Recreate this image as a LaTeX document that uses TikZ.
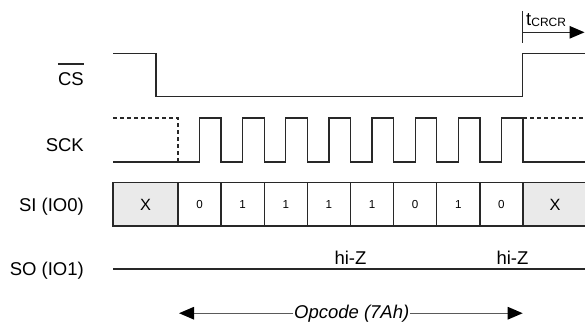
\documentclass[tikz,border=0pt]{standalone}
\usepackage{fontspec}
\setmainfont{Liberation Sans}
\usetikzlibrary{arrows.meta}
\definecolor{xgray}{RGB}{234,234,234}
\definecolor{wavegray}{RGB}{40,40,40}
\definecolor{spangray}{RGB}{90,90,90}

\begin{document}
\begin{tikzpicture}[
    x=1pt,
    y=-1pt,
    line cap=butt,
    every node/.style={font=\fontsize{18.5}{20}\selectfont, inner sep=0pt},
    wave/.style={draw=wavegray, line width=1.3pt},
    bit/.style={font=\fontsize{11.6}{13}\selectfont},
    bigx/.style={font=\fontsize{16.3}{18}\selectfont},
    span/.style={draw=spangray, line width=1.3pt},
    headarrow/.style={arrows={-Triangle[length=15pt,width=12.5pt,black]}}
]
\useasboundingbox (0,0) rectangle (585,326);

% Signal names
\node[anchor=base east] (cs) at (84,86) {CS};
\draw[wave] ([yshift=9pt]cs.north west) -- ([yshift=9pt]cs.north east);
\node[anchor=base east] (sck) at (84,151) {SCK};
\node[anchor=base east] (si) at (84,211) {SI (IO0)};
\node[anchor=base east] (so) at (84,275.5) {SO (IO1)};

% Chip select
\draw[wave] (113,53.3) -- (156,53.3) -- (156,96.7)
      -- (522.7,96.7) -- (522.7,53.3) -- (585,53.3);

% t_CRCR
\coordinate (tc0) at (522.7,32.3);
\coordinate (tc1) at (584.5,32.3);
\draw[wave] (522.7,11) -- (522.7,43);
\draw[wave,headarrow] (tc0) -- (tc1);
\node[anchor=base west] (tcrcr) at (526,25.5)
      {t\raisebox{-1pt}{\fontsize{12}{13}\selectfont CRCR}};

% Serial clock
\draw[wave,dash pattern=on 4pt off 3pt] (113,118) -- (178,118) -- (178,162);
\draw[wave,dash pattern=on 4pt off 3pt] (523,118) -- (585,118);
\draw[wave] (113,162)
      \foreach \i in {0,...,7}{
        -- ({199.56+\i*43.125},162) |- ++(21.56,-44) -- ++(0,44)
      } -- (585,162);

% SI cells: backgrounds
\fill[xgray] (113,182.7) rectangle (178,226);
\fill[xgray] (523,182.7) rectangle (585,226);

% SI cells: borders
\draw[wave] (585,182.7) -| (113,226) -- (585,226);
\foreach \i in {0,...,8}
    \draw[wave] ({178+\i*43.125},182.7) -- ++(0,43.3);

% Opcode bits
\foreach \b [count=\i from 0] in {0,1,1,1,1,0,1,0}
    \node[bit] (bit\i) at ({199.56+\i*43.125},204.5) {\b};
\node[bigx] (xa) at (145.5,204.5) {X};
\node[bigx] (xb) at (555,204.5) {X};

% Serial output
\draw[wave] (113,269) -- (585,269);
\node (hiz1) at (350.5,258) {hi-Z};
\node (hiz2) at (512.5,258) {hi-Z};

% Opcode span
\node[anchor=base, font=\itshape\fontsize{18.5}{20}\selectfont, inner xsep=0.5pt]
      (op) at (351.7,318) {Opcode (7Ah)};
\coordinate (opl) at (179,312.7);
\coordinate (opr) at (522.7,312.7);
\draw[span,headarrow] (op.west) -- (op.west -| opl);
\draw[span,headarrow] (op.east) -- (op.east -| opr);

\end{tikzpicture}
\end{document}
